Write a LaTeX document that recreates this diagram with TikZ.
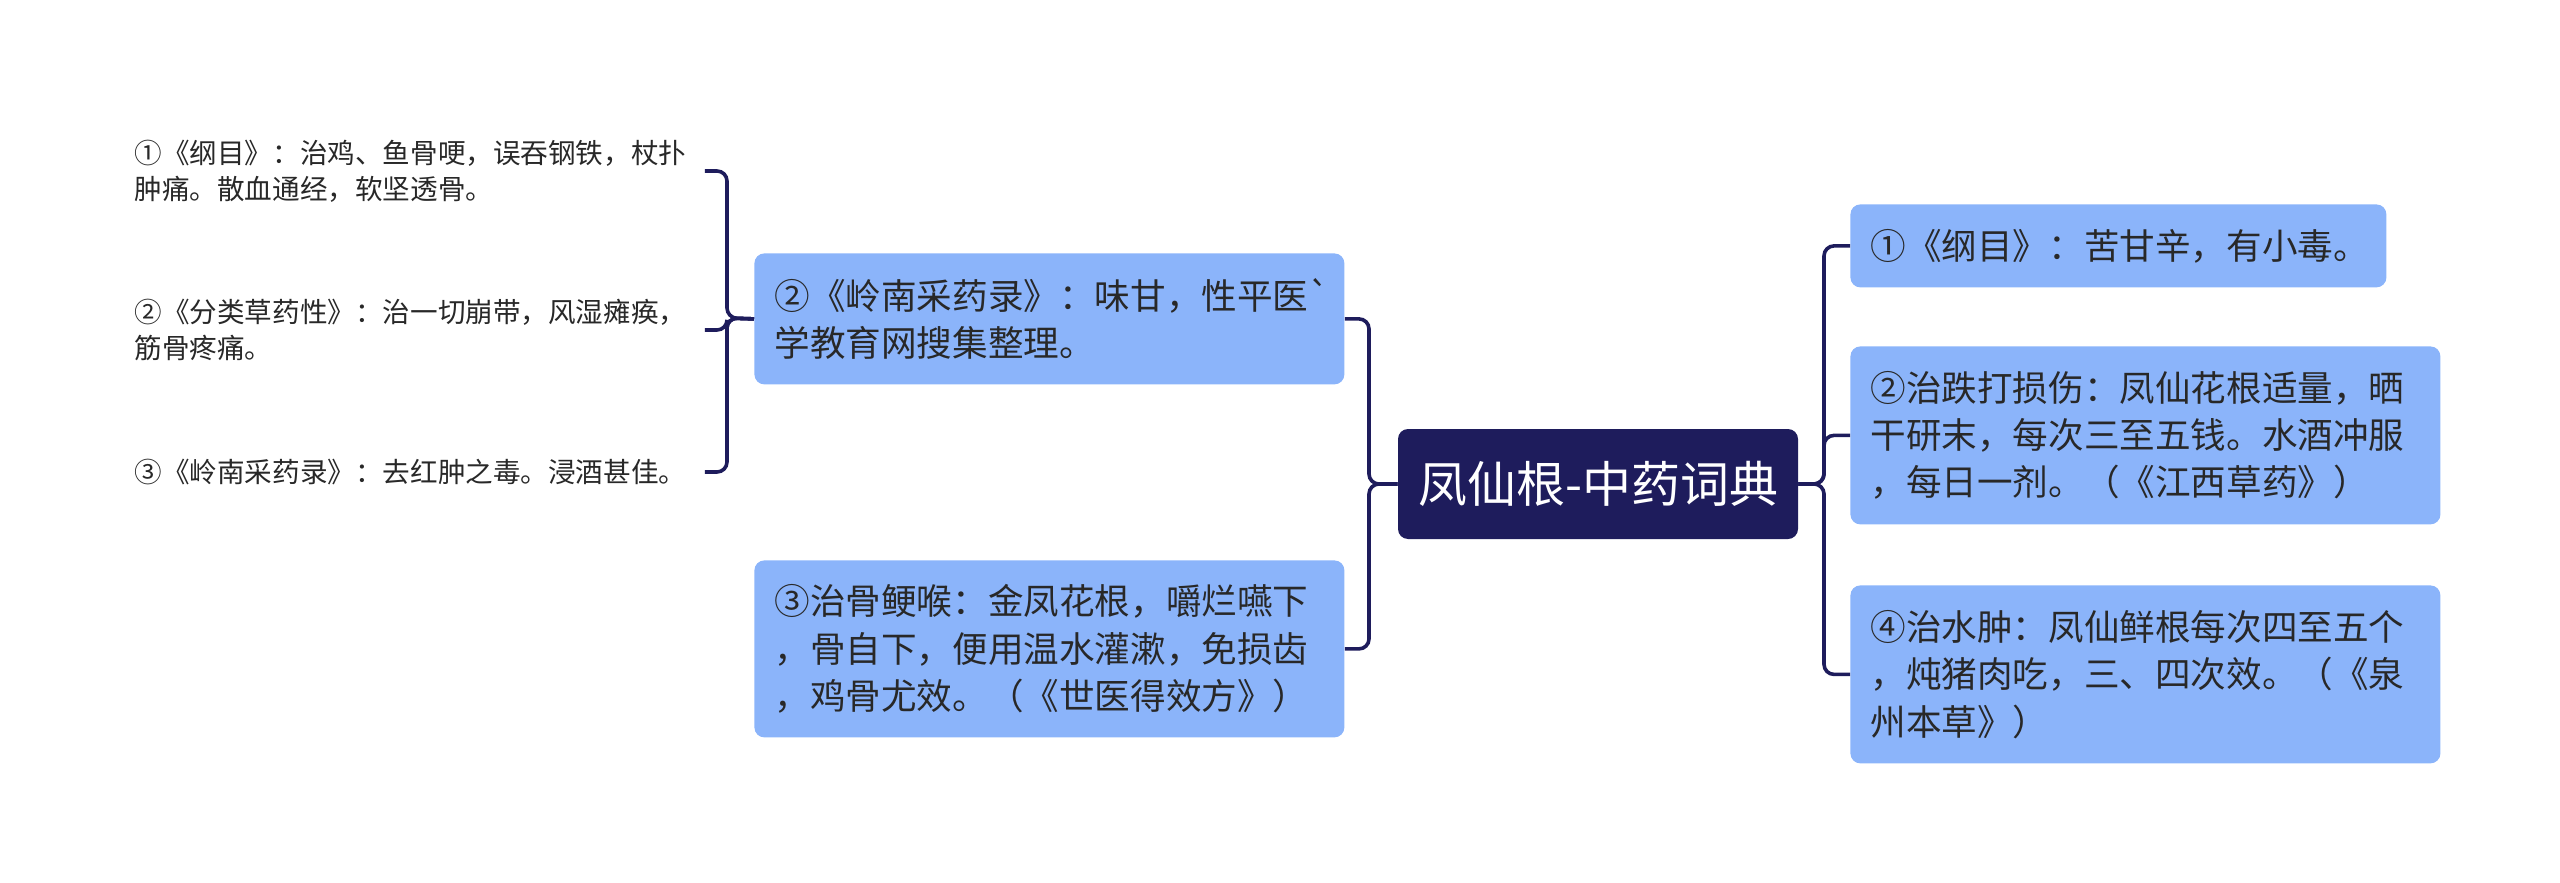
\documentclass[tikz,border=0pt]{standalone}
\usepackage{fontspec}
\setmainfont{Noto Sans CJK SC}[Ligatures=TeXOff]
\definecolor{navy}{RGB}{30,28,92}
\definecolor{boxblue}{RGB}{139,180,250}
\definecolor{txt}{RGB}{40,40,40}
\begin{document}
\begin{tikzpicture}[
  x=0.5pt, y=-0.5pt,
  conn/.style={draw=navy, line width=1.8pt, rounded corners=5pt},
  leaf/.style={fill=boxblue, rounded corners=5pt, inner xsep=10pt, inner ysep=0pt,
    align=left, text=txt, font=\fontsize{17.8pt}{23.7pt}\selectfont, anchor=north west},
  note/.style={align=left, text=txt, inner sep=0pt,
    font=\fontsize{13.8pt}{18pt}\selectfont, text width=285pt, anchor=west},
  root/.style={fill=navy, text=white, rounded corners=5pt, minimum width=200pt,
    minimum height=55pt, inner sep=0pt, font=\fontsize{24.5pt}{29pt}\selectfont}
]
\useasboundingbox (0,0) rectangle (2560,883);

\node[root] (root) at (1598,484) {凤仙根-中药词典};

% right side
\node[leaf, text width=248pt, minimum height=41.5pt] (R1) at (1850,204) {①《纲目》：苦甘辛，有小毒。};
\node[leaf, text width=275pt, minimum height=89pt] (R2) at (1850,346) {②治跌打损伤：凤仙花根适量，晒\\干研末，每次三至五钱。水酒冲服\\，每日一剂。（《江西草药》）};
\node[leaf, text width=275pt, minimum height=89pt] (R3) at (1850,585) {④治水肿：凤仙鲜根每次四至五个\\，炖猪肉吃，三、四次效。（《泉\\州本草》）};

% left side
\node[leaf, text width=275pt, minimum height=65.5pt] (L1) at (754,253) {②《岭南采药录》：味甘，性平医`\\学教育网搜集整理。};
\node[leaf, text width=275pt, minimum height=88.5pt] (L2) at (754,560) {③治骨鲠喉：金凤花根，嚼烂嚥下\\，骨自下，便用温水灌漱，免损齿\\，鸡骨尤效。（《世医得效方》）};

% far-left notes
\node[note] (T1) at (134,171) {①《纲目》：治鸡、鱼骨哽，误吞钢铁，杖扑\\肿痛。散血通经，软坚透骨。};
\node[note] (T2) at (134,330) {②《分类草药性》：治一切崩带，风湿瘫痪，\\筋骨疼痛。};
\node[note] (T3) at (134,472) {③《岭南采药录》：去红肿之毒。浸酒甚佳。};

\coordinate (rj) at (1824,484);
\coordinate (lj) at (1369,484);
\coordinate (tj) at (727,318);

\draw[conn] (root.east) -- (rj) |- (R1.west);
\draw[conn] (root.east) -- (rj) |- (R2.west);
\draw[conn] (root.east) -- (rj) |- (R3.west);

\draw[conn] (root.west) -- (lj) |- (L1.east);
\draw[conn] (root.west) -- (lj) |- (L2.east);

\draw[conn] (L1.west) -- (tj) |- (T1.east);
\draw[conn] (L1.west) -- (tj) |- (T2.east);
\draw[conn] (L1.west) -- (tj) |- (T3.east);
\end{tikzpicture}
\end{document}
